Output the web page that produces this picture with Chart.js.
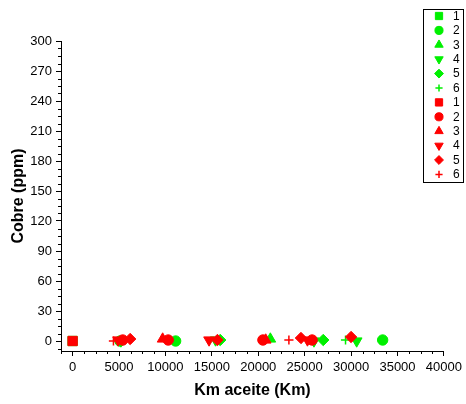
<!DOCTYPE html>
<html><head><meta charset="utf-8">
<script src="https://cdn.jsdelivr.net/npm/chart.js@4/dist/chart.umd.min.js"></script>
<style>html,body{margin:0;padding:0;background:#fff}</style>
</head><body>
<canvas id="c" width="466" height="404"></canvas>
<script>
// ---- data ----
const seriesLabels = ['1','2','3','4','5','6'];
const xTickValues = [0,5000,10000,15000,20000,25000,30000,35000,40000];
const yTickValues = [0,30,60,90,120,150,180,210,240,270,300];

const green1X = [0],                         green1Y = [0];
const green2X = [5100, 11100, 33400],        green2Y = [0, 0, 1];
const green3X = [21300],                     green3Y = [2];
const green4X = [5200, 15400, 26000, 30600], green4Y = [0, 1, 0, 0];
const green5X = [15900, 27000],              green5Y = [1, 1];
const green6X = [29400],                     green6Y = [1];

const red1X = [0],                           red1Y = [0];
const red2X = [5400, 10300, 20500, 25800],   red2Y = [1, 1, 1, 1];
const red3X = [9700, 20800],                 red3Y = [2, 1];
const red4X = [4900, 14700, 25300],          red4Y = [1, 1, 1];
const red5X = [6200, 15600, 24600, 30000],   red5Y = [2, 1, 3, 4];
const red6X = [4400, 23300],                 red6Y = [0, 1];

const greenX = [green1X, green2X, green3X, green4X, green5X, green6X];
const greenY = [green1Y, green2Y, green3Y, green4Y, green5Y, green6Y];
const redX = [red1X, red2X, red3X, red4X, red5X, red6X];
const redY = [red1Y, red2Y, red3Y, red4Y, red5Y, red6Y];

// ---- styles ----
const GREEN = '#00f000', RED = '#ff0000';
const shapes = [
  {pointStyle:'rect', pointRadius:6.6, pointRotation:0},
  {pointStyle:'circle', pointRadius:5.2, pointRotation:0},
  {pointStyle:'triangle', pointRadius:6.2, pointRotation:0},
  {pointStyle:'triangle', pointRadius:6.2, pointRotation:180},
  {pointStyle:'rectRot', pointRadius:5.7, pointRotation:0},
  {pointStyle:'cross', pointRadius:4.6, pointRotation:0}
];
function makeSet(xs, ys, color, i, order){
  const s = shapes[i];
  return {
    label: seriesLabels[i],
    data: xs.map((x,k)=>({x:x, y:ys[k]})),
    showLine:false,
    pointStyle:s.pointStyle, pointRadius:s.pointRadius, pointHoverRadius:s.pointRadius,
    pointRotation:s.pointRotation,
    backgroundColor:color, borderColor:color,
    pointBorderWidth: s.pointStyle==='cross' ? 1.5 : 1,
    order: order
  };
}
const datasets = [];
for (let i=0;i<6;i++) datasets.push(makeSet(greenX[i], greenY[i], GREEN, i, 1));
for (let i=0;i<6;i++) datasets.push(makeSet(redX[i], redY[i], RED, i, 0));

Chart.defaults.font.family = "'Liberation Sans', Arial, sans-serif";
Chart.defaults.color = '#000';

const minorTicks = {
  id:'minorTicks',
  afterDraw(chart){
    const {ctx, scales:{x,y}, chartArea:a} = chart;
    ctx.save(); ctx.strokeStyle='#000'; ctx.lineWidth=1; ctx.beginPath();
    for (let v=x.min; v<=x.max; v+=1250){
      if (xTickValues.includes(v)) continue;
      const px=Math.round(x.getPixelForValue(v))+0.5;
      ctx.moveTo(px,a.bottom); ctx.lineTo(px,a.bottom+3);
    }
    for (let v=-7.5; v<=y.max; v+=7.5){
      if (yTickValues.includes(v)) continue;
      const py=Math.round(y.getPixelForValue(v))+0.5;
      ctx.moveTo(a.left,py); ctx.lineTo(a.left-3,py);
    }
    ctx.stroke(); ctx.restore();
  }
};

const boxLegend = {
  id:'boxLegend',
  afterDraw(chart){
    const ctx = chart.ctx;
    ctx.save();
    ctx.fillStyle='#fff';
    ctx.fillRect(423.5,9.5,40,173);
    ctx.strokeStyle='#000'; ctx.lineWidth=1;
    ctx.strokeRect(423.5,9.5,40,173);
    chart.data.datasets.forEach((ds,i)=>{
      const cy = 16 + i*14.4;
      const cx = 439;
      ctx.fillStyle = ds.backgroundColor; ctx.strokeStyle = ds.borderColor;
      ctx.lineWidth = ds.pointBorderWidth;
      Chart.helpers.drawPoint(ctx, {pointStyle:ds.pointStyle, radius:ds.pointRadius*0.78, rotation:ds.pointRotation, borderWidth:ds.pointBorderWidth}, cx, cy);
      ctx.fillStyle='#000';
      ctx.font = "12px 'Liberation Sans', Arial, sans-serif";
      ctx.textBaseline='middle'; ctx.textAlign='left';
      ctx.fillText(ds.label, 453, cy+0.5);
    });
    ctx.restore();
  }
};

new Chart(document.getElementById('c'), {
  type:'scatter',
  data:{datasets},
  plugins:[minorTicks, boxLegend],
  options:{
    responsive:false, animation:false,
    layout:{padding:{left:0, right:20, top:41, bottom:0}},
    plugins:{legend:{display:false}, tooltip:{enabled:false}},
    scales:{
      x:{
        type:'linear', min:-1250, max:40000,
        afterBuildTicks(s){ s.ticks = xTickValues.map(v=>({value:v})); },
        afterFit(s){ s.height = 53; },
        grid:{drawOnChartArea:false, drawTicks:true, tickLength:5, color:'#000'},
        border:{display:true, color:'#000', width:1},
        ticks:{font:{size:13}, padding:4, maxRotation:0, autoSkip:false, callback:v=>String(v)},
        title:{display:true, text:'Km aceite (Km)', font:{size:16, weight:'bold'}, padding:{top:0,bottom:4}}
      },
      y:{
        type:'linear', min:-10, max:300,
        afterBuildTicks(s){ s.ticks = yTickValues.map(v=>({value:v})); },
        afterFit(s){ s.width = 61; },
        grid:{drawOnChartArea:false, drawTicks:true, tickLength:5, color:'#000'},
        border:{display:true, color:'#000', width:1},
        ticks:{font:{size:13}, padding:4, autoSkip:false, callback:v=>String(v)},
        title:{display:true, text:'Cobre (ppm)', font:{size:16, weight:'bold'}, padding:{top:9,bottom:0}}
      }
    }
  }
});
</script>
</body></html>
